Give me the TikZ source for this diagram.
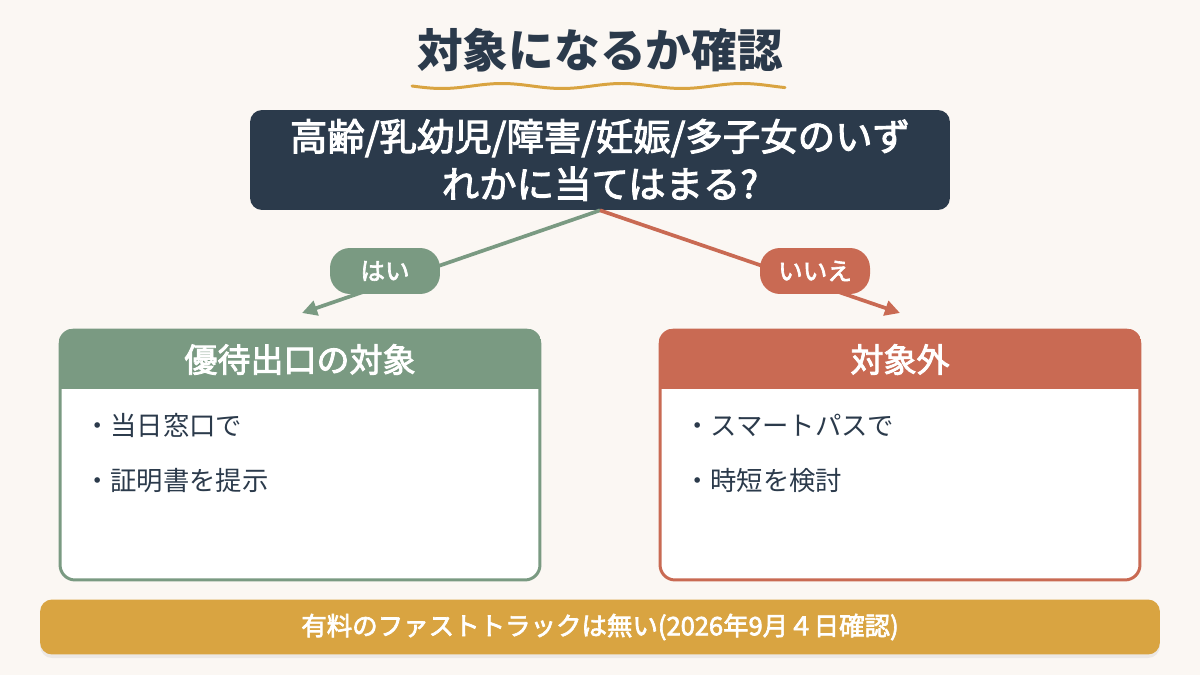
\documentclass[tikz,border=0pt]{standalone}
\usepackage{fontspec}
\setmainfont{Noto Sans CJK JP}
\newfontfamily\medfont{Noto Sans CJK JP}[FakeBold=2.6]
\usepackage{tikz}
\usetikzlibrary{arrows.meta,positioning,calc,shadows}
\definecolor{pagebg}{HTML}{FBF7F3}
\definecolor{navy}{HTML}{2B3A4B}
\definecolor{sage}{HTML}{7A9A82}
\definecolor{brick}{HTML}{C96A53}
\definecolor{gold}{HTML}{D9A441}

\begin{document}
\begin{tikzpicture}[x=0.02cm,y=-0.02cm,
  ttl/.style={font=\bfseries\fontsize{26}{30}\selectfont,text=navy},
  qbox/.style={rectangle,rounded corners=0.24cm,fill=navy,text=white,align=center,
               minimum width=14cm,minimum height=2cm,font=\medfont\fontsize{21.3}{27}\selectfont},
  pill/.style={rectangle,rounded corners=0.4cm,text=white,minimum width=2.2cm,
               minimum height=0.92cm,font=\medfont\fontsize{14}{16}\selectfont},
  card/.style={rectangle,rounded corners=0.3cm,line width=1.7pt,fill=white,
               minimum width=9.6cm,minimum height=5cm},
  head/.style={font=\medfont\fontsize{18.8}{22}\selectfont,text=white},
  item/.style={font=\fontsize{15}{18}\selectfont,text=navy,anchor=west},
  arr/.style={-{Triangle[length=0.3cm,width=0.3cm]},line width=2.1pt},
  banner/.style={rectangle,rounded corners=0.24cm,fill=gold,text=white,
                 minimum width=22.4cm,minimum height=1.1cm,
                 font=\medfont\fontsize{14.5}{16}\selectfont,
                 drop shadow={opacity=0.12,shadow xshift=0pt,shadow yshift=-2pt}}
]
\fill[pagebg] (0,0) rectangle (1200,675);

% title with wavy underline
\node[ttl] (title) at (600,50) {対象になるか確認};
\draw[gold,line width=1.7pt,line cap=round]
  plot[domain=412:785,samples=90] (\x,{86+2.5*sin((\x-412)*3)});

% question
\node[qbox] (q) at (600,160) {高齢/乳幼児/障害/妊娠/多子女のいず\\れかに当てはまる?};

% branches
\coordinate (yestip) at (302,313);
\coordinate (notip) at (900,313);
\draw[arr,sage] (q.south) -- (yestip);
\draw[arr,brick] (q.south) -- (notip);
\node[pill,fill=sage] (yeslbl) at (385,271) {はい};
\node[pill,fill=brick] (nolbl) at (815,271) {いいえ};

% result cards
\node[card,draw=sage] (yes) at (300,455) {};
\node[card,draw=brick] (no) at (900,455) {};
\begin{scope}
  \clip[rounded corners=0.3cm] (yes.north west) rectangle (yes.south east);
  \fill[sage] (yes.north west) rectangle ($(yes.north east)+(0,60)$);
\end{scope}
\begin{scope}
  \clip[rounded corners=0.3cm] (no.north west) rectangle (no.south east);
  \fill[brick] (no.north west) rectangle ($(no.north east)+(0,60)$);
\end{scope}
\node[head] (yeshead) at ($(yes.north)+(0,31)$) {優待出口の対象};
\node[head] (nohead) at ($(no.north)+(0,31)$) {対象外};

\node[item] (yes1) at (78,425) {・当日窓口で};
\node[item] (yes2) at (78,481) {・証明書を提示};
\node[item] (no1) at (678,425) {・スマートパスで};
\node[item] (no2) at (678,481) {・時短を検討};

% note
\node[banner] (note) at (600,627) {有料のファストトラックは無い(2026年9月４日確認)};
\end{tikzpicture}
\end{document}
